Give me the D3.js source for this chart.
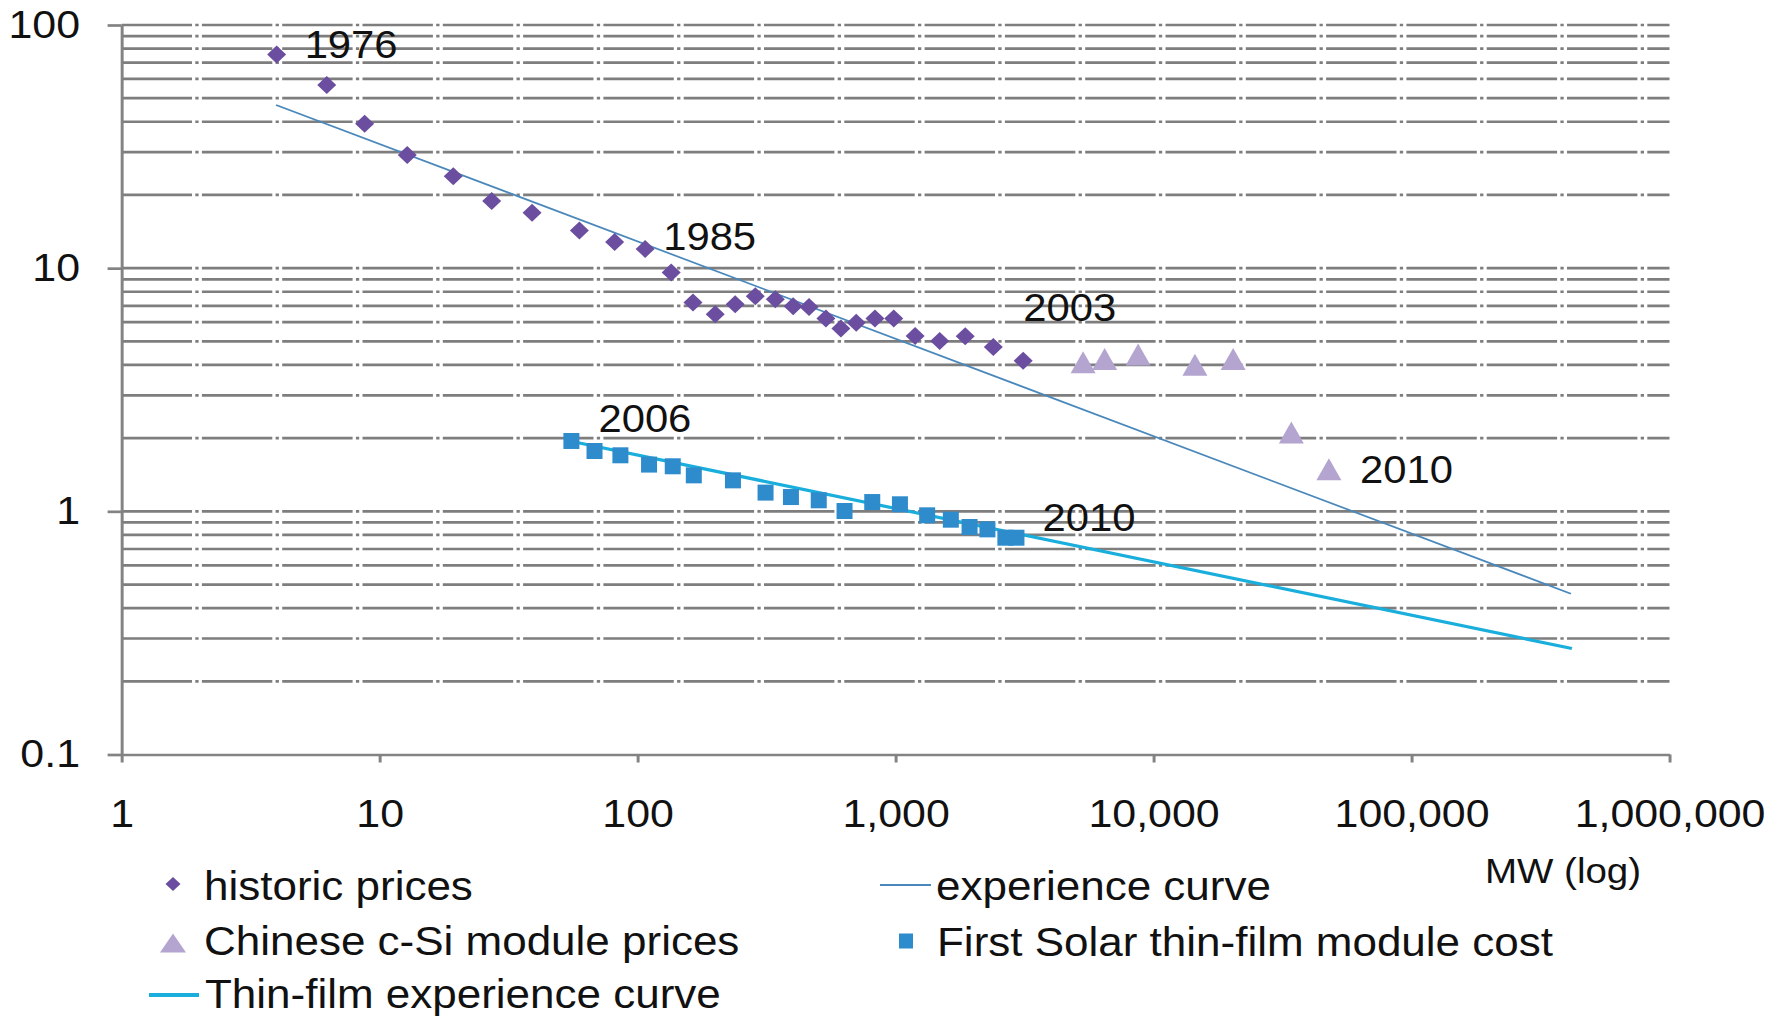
<!DOCTYPE html>
<html>
<head>
<meta charset="utf-8">
<script src="https://cdn.jsdelivr.net/npm/d3@7"></script>
<style>
  html, body { margin: 0; padding: 0; background: #fff; }
  svg { display: block; font-family: "Liberation Sans", Arial, sans-serif; }
</style>
</head>
<body>
<script>
// Cumulative installed capacity (MW) vs module price, log-log
const historicMW    = [3.99, 6.24, 8.75, 12.8, 19.3, 27.2, 39, 59.5, 81.5, 107, 135, 164, 200, 239, 286, 342, 401, 462, 537, 614, 704, 832, 984, 1191, 1483, 1862, 2393, 3124];
const historicPrice = [75.7, 56.6, 39.3, 29.2, 23.9, 18.9, 16.9, 14.3, 12.8, 12.0, 9.6, 7.22, 6.47, 7.11, 7.67, 7.45, 6.98, 6.93, 6.21, 5.65, 5.96, 6.21, 6.21, 5.26, 5.02, 5.25, 4.74, 4.16];

const chineseMW    = [5333, 6464, 8715, 14470, 20350, 34210, 47840];
const chinesePrice = [4.10, 4.23, 4.42, 4.01, 4.23, 2.11, 1.49];

const firstSolarMW   = [55.4, 68.1, 85.8, 110.8, 136.9, 165.2, 234.3, 313.4, 393.1, 503.9, 634.3, 812.2, 1040, 1326, 1638, 1936, 2271, 2665, 2942];
const firstSolarCost = [1.947, 1.771, 1.70, 1.557, 1.532, 1.406, 1.341, 1.194, 1.145, 1.110, 1.003, 1.092, 1.069, 0.963, 0.924, 0.862, 0.843, 0.779, 0.779];

// Power-law experience curves (straight in log-log), given by their end points
const experienceMW    = [3.97, 414800];
const experiencePrice = [46.9, 0.4585];
const thinFilmMW      = [54, 418500];
const thinFilmPrice   = [1.95, 0.273];

const xTickValues = [1, 10, 100, 1000, 10000, 100000, 1000000];
const xTickLabels = ["1", "10", "100", "1,000", "10,000", "100,000", "1,000,000"];
const yTickValues = [0.1, 1, 10, 100];
const yTickLabels = ["0.1", "1", "10", "100"];

const yearLabels = ["1976", "1985", "2003", "2006", "2010", "2010"];

const legendLabels = ["historic prices", "experience curve", "Chinese c-Si module prices",
                      "First Solar thin-film module cost", "Thin-film experience curve"];

// ---------------------------------------------------------------
const W = 1782, H = 1019;
const SX = 1.1;               // horizontal stretch of the whole drawing
const px = v => v / SX;       // page pixels -> drawing units (horizontal)

const C = {
  grid: "#7e7e7e",
  axis: "#838383",
  text: "#111111",
  historic: "#6b4e9f",
  chinese: "#b4a5d0",
  firstSolar: "#2e8bcc",
  experience: "#4a88bb",
  thinFilm: "#19aedb"
};

const svg = d3.select("body").append("svg").attr("width", W).attr("height", H);
svg.append("rect").attr("width", W).attr("height", H).attr("fill", "#fff");
const g = svg.append("g").attr("transform", `scale(${SX},1)`);

const x = d3.scaleLog().domain([1, 1e6]).range([px(121.6), px(1669.5)]);
const y = d3.scaleLog().domain([0.1, 100]).range([754.5, 25]);

// horizontal dash-dot gridlines at every 1..9 step of each decade
g.append("g").selectAll("line")
  .data(y.ticks().filter(v => v > 0.1 + 1e-9))
  .join("line")
  .attr("x1", x.range()[0]).attr("x2", x.range()[1])
  .attr("y1", d => y(d)).attr("y2", d => y(d))
  .attr("stroke", C.grid).attr("stroke-width", 2.7)
  .attr("stroke-dasharray", "64,3,3,3");

// axes
const yAxis = d3.axisLeft(y)
  .tickValues(yTickValues)
  .tickFormat((d, i) => yTickLabels[i])
  .tickSize(px(14)).tickSizeOuter(0)
  .tickPadding(px(121.6) - px(80) - px(14));
const xAxis = d3.axisBottom(x)
  .tickValues(xTickValues)
  .tickFormat((d, i) => xTickLabels[i])
  .tickSize(8).tickSizeOuter(0)
  .tickPadding(37);

function styleAxis(sel) {
  sel.select(".domain").attr("stroke", C.axis).attr("stroke-width", 2.7);
  sel.selectAll(".tick line").attr("stroke", C.axis).attr("stroke-width", 2.7);
  sel.selectAll(".tick text").attr("fill", C.text).style("font-size", "39px");
  sel.attr("font-family", null).attr("font-size", null);
}
g.append("g").attr("transform", `translate(${x.range()[0]},0)`).call(yAxis).call(styleAxis);
g.append("g").attr("transform", `translate(0,${y.range()[0]})`).call(xAxis).call(styleAxis);

g.append("text")
  .attr("x", px(1485)).attr("y", 883)
  .attr("fill", C.text).style("font-size", "35px")
  .text("MW (log)");

// curves
const line = d3.line().x(d => x(d[0])).y(d => y(d[1]));
g.append("path")
  .datum(experienceMW.map((m, i) => [m, experiencePrice[i]]))
  .attr("d", line).attr("fill", "none")
  .attr("stroke", C.experience).attr("stroke-width", 1.7);
g.append("path")
  .datum(thinFilmMW.map((m, i) => [m, thinFilmPrice[i]]))
  .attr("d", line).attr("fill", "none")
  .attr("stroke", C.thinFilm).attr("stroke-width", 3.2);

// marker shapes, centred on the origin
const diamond  = (w, h) => `M0,${-h / 2}L${w / 2},0L0,${h / 2}L${-w / 2},0Z`;
const triangle = (w, h) => `M0,${-h / 2}L${w / 2},${h / 2}L${-w / 2},${h / 2}Z`;
const square   = (w, h) => `M${-w / 2},${-h / 2}h${w}v${h}h${-w}Z`;

function markers(xs, ys, shape, color) {
  g.append("g").selectAll("path")
    .data(xs.map((m, i) => [m, ys[i]]))
    .join("path")
    .attr("transform", d => `translate(${x(d[0])},${y(d[1])})`)
    .attr("d", shape)
    .attr("fill", color);
}
markers(historicMW, historicPrice, diamond(px(19), 18), C.historic);
markers(chineseMW, chinesePrice, triangle(px(25), 22), C.chinese);
markers(firstSolarMW, firstSolarCost, square(px(16), 16), C.firstSolar);

// year annotations, anchored to the first / last point of each series
const yearAnchors = [
  [historicMW[0], historicPrice[0], 28, 4],
  [historicMW[9], historicPrice[9], 18, 1],
  [historicMW[historicMW.length - 1], historicPrice[historicPrice.length - 1], 0, -40],
  [firstSolarMW[0], firstSolarCost[0], 27, -9],
  [firstSolarMW[firstSolarMW.length - 1], firstSolarCost[firstSolarCost.length - 1], 26, -7],
  [chineseMW[chineseMW.length - 1], chinesePrice[chinesePrice.length - 1], 31, 14]
];
g.append("g").selectAll("text")
  .data(yearLabels)
  .join("text")
  .attr("x", (d, i) => x(yearAnchors[i][0]) + px(yearAnchors[i][2]))
  .attr("y", (d, i) => y(yearAnchors[i][1]) + yearAnchors[i][3])
  .attr("fill", C.text).style("font-size", "38px")
  .text(d => d);

// legend
const legend = g.append("g").style("font-size", "40px").attr("fill", C.text);
function legendText(tx, ty, label) {
  legend.append("text").attr("x", px(tx)).attr("y", ty).text(label);
}
legend.append("path").attr("transform", `translate(${px(173)},884)`)
  .attr("d", diamond(px(15), 14)).attr("fill", C.historic);
legendText(204, 900, legendLabels[0]);

legend.append("line").attr("x1", px(880)).attr("x2", px(931)).attr("y1", 885).attr("y2", 885)
  .attr("stroke", C.experience).attr("stroke-width", 2);
legendText(936, 900, legendLabels[1]);

legend.append("path").attr("transform", `translate(${px(173)},943)`)
  .attr("d", triangle(px(26), 19)).attr("fill", C.chinese);
legendText(204, 955, legendLabels[2]);

legend.append("path").attr("transform", `translate(${px(906)},941)`)
  .attr("d", square(px(14), 15)).attr("fill", C.firstSolar);
legendText(937, 956, legendLabels[3]);

legend.append("line").attr("x1", px(149)).attr("x2", px(199)).attr("y1", 995).attr("y2", 995)
  .attr("stroke", C.thinFilm).attr("stroke-width", 4);
legendText(205, 1008, legendLabels[4]);
</script>
</body>
</html>
